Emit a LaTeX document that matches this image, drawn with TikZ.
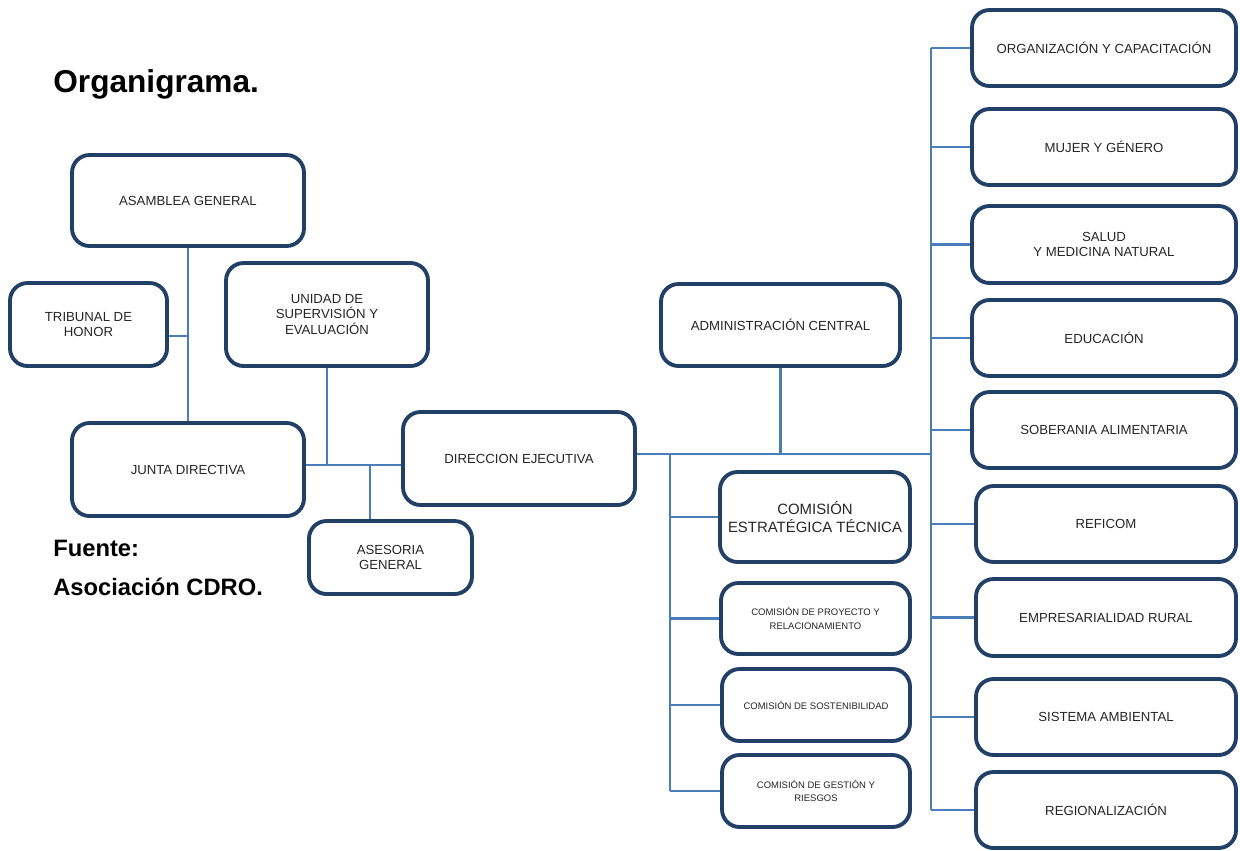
\documentclass[tikz,border=0pt]{standalone}
\usepackage{fontspec}
\setmainfont{Liberation Sans}
\definecolor{marino}{HTML}{223F66}
\definecolor{azul}{HTML}{4A7EBB}
\definecolor{texto}{HTML}{262626}

\begin{document}
\begin{tikzpicture}[x=0.02cm, y=-0.02cm,
  caja/.style={draw=marino, line width=2.2pt, rounded corners=0.35cm, fill=white, align=center, text=texto, inner sep=2pt, font=\fontsize{7.5}{9}\selectfont},
  chica/.style={caja, font=\fontsize{5.4}{7.5}\selectfont},
  linea/.style={draw=azul, line width=1.2pt},
  rotulo/.style={anchor=west, inner sep=0pt, text=black}]
\useasboundingbox (0,0) rectangle (1240,850);
\node[rotulo, font=\bfseries\fontsize{18}{22}\selectfont] (titulo) at (53,84) {Organigrama.};
\node[rotulo, font=\bfseries\fontsize{13.5}{16}\selectfont] (fuente) at (53,548) {Fuente:};
\node[rotulo, font=\bfseries\fontsize{13.5}{16}\selectfont] (origen) at (53,587) {Asociación CDRO.};
\node[caja, minimum width=4.64cm, minimum height=1.82cm] (asamblea) at (188,200.5) {ASAMBLEA GENERAL};
\node[caja, minimum width=3.14cm, minimum height=1.66cm] (tribunal) at (88.5,324.5) {TRIBUNAL DE\\HONOR};
\node[caja, minimum width=4.04cm, minimum height=2.06cm] (unidad) at (327,314.5) {UNIDAD DE\\SUPERVISIÓN Y\\EVALUACIÓN};
\node[caja, minimum width=4.64cm, minimum height=1.86cm] (junta) at (188,469.5) {JUNTA DIRECTIVA};
\node[caja, minimum width=4.64cm, minimum height=1.86cm] (direccion) at (519,458.5) {DIRECCION EJECUTIVA};
\node[caja, minimum width=3.26cm, minimum height=1.46cm] (asesoria) at (390.5,557.5) {ASESORIA\\GENERAL};
\node[caja, minimum width=4.78cm, minimum height=1.64cm] (admin) at (780.5,325) {ADMINISTRACIÓN  CENTRAL};
\node[caja, minimum width=3.80cm, minimum height=1.80cm, font=\fontsize{8.5}{10}\selectfont] (comEst) at (815,517) {COMISIÓN\\ESTRATÉGICA TÉCNICA};
\node[chica, minimum width=3.78cm, minimum height=1.42cm] (comProy) at (815.5,618.5) {COMISIÓN DE PROYECTO Y\\RELACIONAMIENTO};
\node[chica, minimum width=3.76cm, minimum height=1.44cm] (comSost) at (816,705) {COMISIÓN DE SOSTENIBILIDAD};
\node[chica, minimum width=3.76cm, minimum height=1.44cm] (comGest) at (816,791) {COMISIÓN DE GESTIÓN Y\\RIESGOS};
\node[caja, minimum width=5.28cm, minimum height=1.52cm] (org) at (1104,48) {ORGANIZACIÓN  Y CAPACITACIÓN};
\node[caja, minimum width=5.28cm, minimum height=1.52cm] (mujer) at (1104,147) {MUJER Y GÉNERO};
\node[caja, minimum width=5.28cm, minimum height=1.54cm] (salud) at (1104,244.5) {SALUD\\Y MEDICINA  NATURAL};
\node[caja, minimum width=5.28cm, minimum height=1.52cm] (educ) at (1104,338) {EDUCACIÓN};
\node[caja, minimum width=5.28cm, minimum height=1.52cm] (sober) at (1104,430) {SOBERANIA ALIMENTARIA};
\node[caja, minimum width=5.20cm, minimum height=1.52cm] (refi) at (1106,524) {REFICOM};
\node[caja, minimum width=5.20cm, minimum height=1.54cm] (empr) at (1106,617.5) {EMPRESARIALIDAD  RURAL};
\node[caja, minimum width=5.20cm, minimum height=1.52cm] (sist) at (1106,717) {SISTEMA  AMBIENTAL};
\node[caja, minimum width=5.20cm, minimum height=1.52cm] (regio) at (1106,810) {REGIONALIZACIÓN};
\coordinate (nudo) at (370,465);
\coordinate (eje) at (931,454);
\coordinate (ramal) at (670,454);
\coordinate (honor) at ([yshift=-0.23cm]tribunal.east);
\draw[linea] (asamblea.south) -- (junta.north);
\draw[linea] (honor) -- (honor -| asamblea.south);
\draw[linea] (unidad.south) -- (unidad.south |- nudo);
\draw[linea] (junta.east |- nudo) -- (direccion.west |- nudo);
\draw[linea] (nudo) -- (nudo |- asesoria.north);
\draw[linea] (direccion.east |- eje) -- (eje);
\draw[linea] (admin.south) -- (admin.south |- eje);
\draw[linea] (eje |- org.west) -- (eje |- regio.west);
\foreach \n in {org, mujer, salud, educ, sober, refi, empr, sist, regio}
  \draw[linea] (eje |- \n.west) -- (\n.west);
\draw[linea] (ramal) -- (ramal |- comGest.west);
\foreach \n in {comEst, comProy, comSost, comGest}
  \draw[linea] (ramal |- \n.west) -- (\n.west);
\end{tikzpicture}
\end{document}
